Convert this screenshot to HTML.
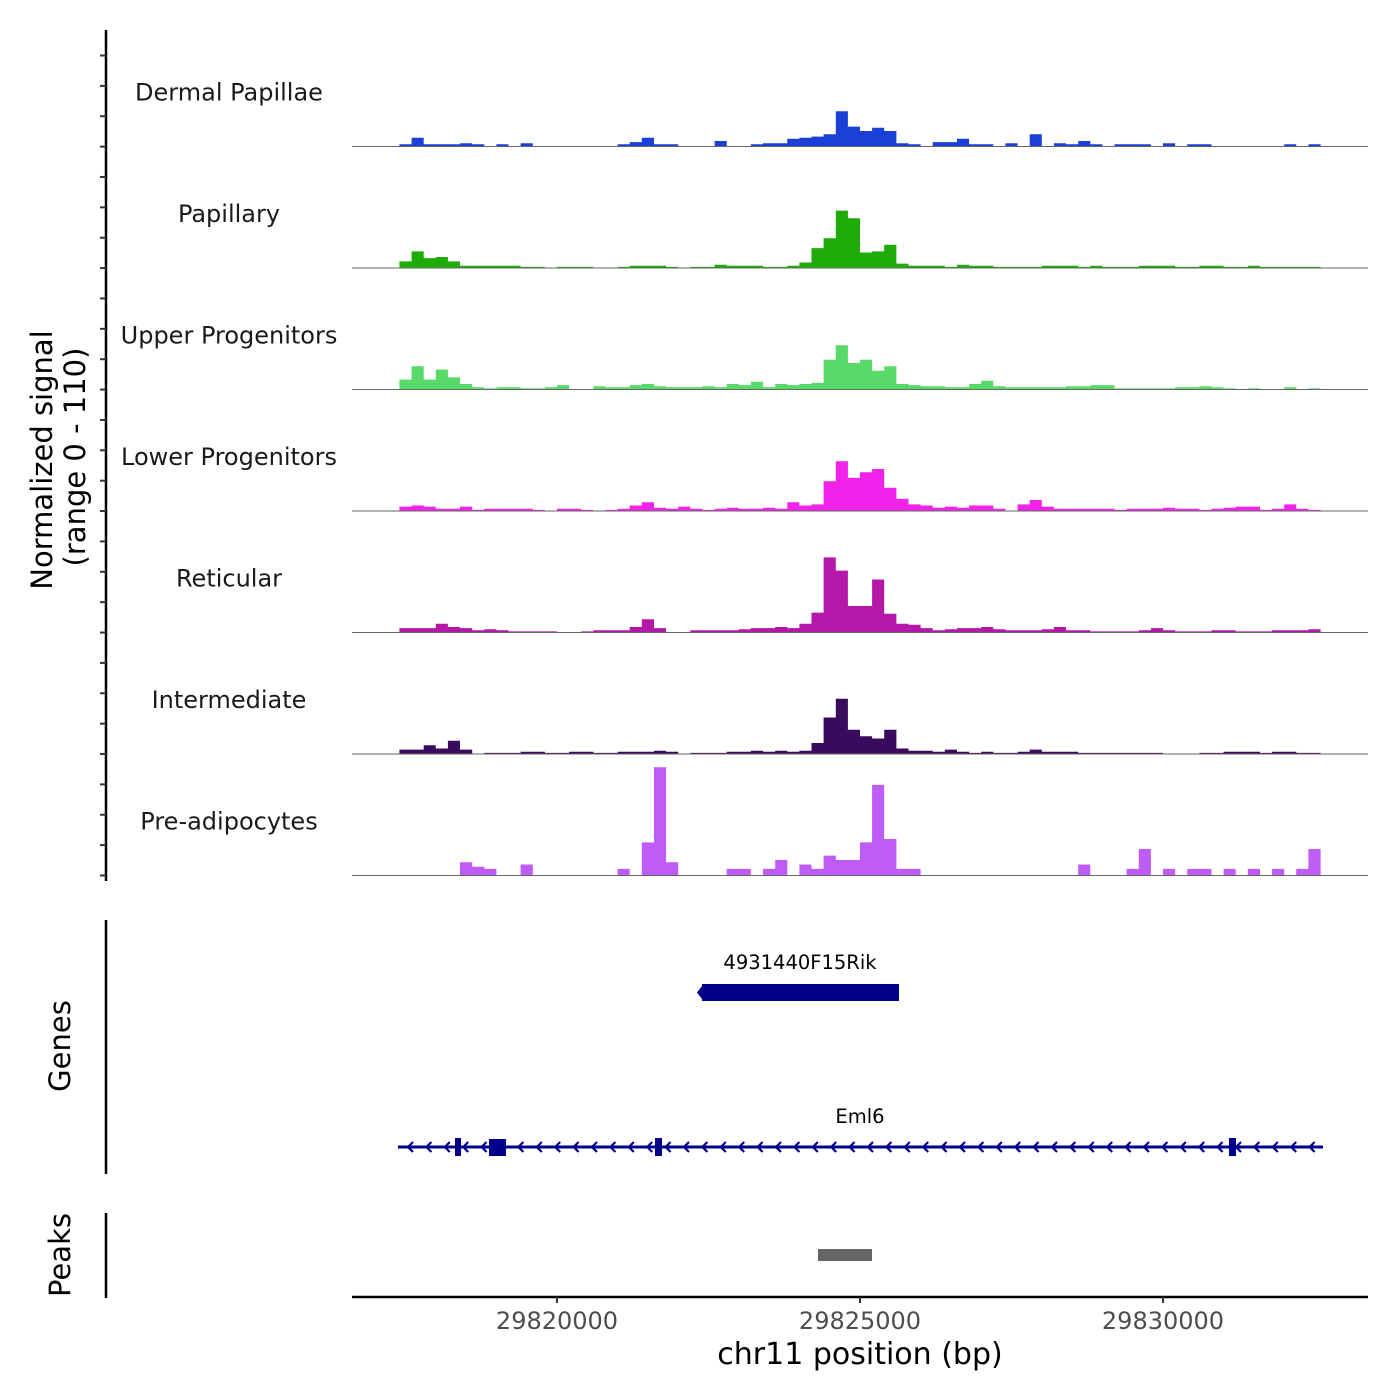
<!DOCTYPE html>
<html><head><meta charset="utf-8"><style>
body{margin:0;background:#fff}
svg{display:block;font-family:"DejaVu Sans","Liberation Sans",sans-serif}
</style></head><body>
<svg id="chart" width="1400" height="1400" viewBox="0 0 1400 1400">
<rect width="1400" height="1400" fill="#fff"/>
<g id="tracks"></g>
<line x1="106" y1="30" x2="106" y2="881" stroke="#000" stroke-width="2.5"/>
<g id="yticks"></g>
<text transform="translate(52,460) rotate(-90)" text-anchor="middle" font-size="29">Normalized signal</text>
<text transform="translate(85,457) rotate(-90)" text-anchor="middle" font-size="29">(range 0 - 110)</text>

<line x1="106" y1="920" x2="106" y2="1174" stroke="#000" stroke-width="2.5"/>
<text transform="translate(70,1046) rotate(-90)" text-anchor="middle" font-size="29">Genes</text>
<text x="800" y="969" text-anchor="middle" font-size="19.5">4931440F15Rik</text>
<rect x="702" y="984" width="197" height="17" fill="#00008b"/>
<path d="M702,986 L697,992.5 L702,999 Z" fill="#00008b"/>
<text x="860" y="1123" text-anchor="middle" font-size="19.5">Eml6</text>
<g id="eml6">
<line x1="398" y1="1147" x2="1323" y2="1147" stroke="#00008b" stroke-width="3"/>
<rect x="455" y="1138" width="6" height="18" fill="#00008b"/>
<rect x="489" y="1139" width="17" height="17" fill="#00008b"/>
<rect x="655" y="1138" width="7" height="18" fill="#00008b"/>
<rect x="1229" y="1138" width="7" height="18" fill="#00008b"/>
</g>

<line x1="106" y1="1213" x2="106" y2="1298" stroke="#000" stroke-width="2.5"/>
<text transform="translate(70,1255) rotate(-90)" text-anchor="middle" font-size="29">Peaks</text>
<rect x="818" y="1249" width="54" height="12" fill="#666"/>

<line x1="352" y1="1297" x2="1368" y2="1297" stroke="#000" stroke-width="2.5"/>
<g id="xticks"></g>
<text x="860" y="1364" text-anchor="middle" font-size="30">chr11 position (bp)</text>
</svg>
<script>
const trackNames = ["Dermal Papillae","Papillary","Upper Progenitors","Lower Progenitors","Reticular","Intermediate","Pre-adipocytes"];
const trackColors = ["#1a40d8","#1fac0a","#58da68","#f122ea","#b418a8","#3a0b5d","#c05cf6"];
const binStart = 29817400;
const binSize = 200;
const xTickValues = [29820000,29825000,29830000];
const dermalPapillae = [2,8,2,2,2,3,2,0,2,0,3,0,0,0,0,0,0,0,2,4,8,2,2,0,0,0,5,0,0,2,3,3,7,8,9,11,32,18,14,17,14,3,2,0,4,4,7,2,2,0,3,0,11,0,3,2,5,2,0,2,2,2,0,3,0,2,2,0,0,0,0,0,0,2,0,2,0];
const papillary = [6,15,9,10,6,2,2,2,2,2,1,1,0,1,1,1,0,0,1,2,2,2,1,0,1,1,3,2,2,2,1,1,2,5,18,27,52,45,14,15,21,4,2,2,2,1,3,2,2,1,1,1,1,2,2,2,1,2,1,1,1,2,2,2,1,1,2,2,1,1,2,1,1,1,1,1,0];
const upperProgenitors = [9,21,9,18,11,5,2,1,2,2,1,1,2,4,0,0,3,2,2,4,5,3,2,2,2,3,2,5,4,7,2,5,4,5,6,27,40,24,27,17,21,5,4,3,3,2,2,5,8,3,2,2,2,2,2,3,3,4,4,1,1,1,1,1,2,2,3,2,1,0,1,0,0,2,0,1,0];
const lowerProgenitors = [4,5,4,2,2,4,1,2,2,2,2,1,0,2,2,1,0,1,2,5,8,3,2,4,2,1,2,3,2,2,3,2,8,5,6,27,45,30,35,38,21,11,6,5,3,4,3,5,5,2,0,6,10,4,2,2,2,2,2,1,2,2,2,3,2,2,1,2,3,4,4,1,2,6,2,1,0];
const reticular = [4,4,4,8,5,4,2,3,2,1,1,1,1,0,0,1,2,2,2,5,12,4,0,0,2,2,2,2,3,4,4,5,4,8,18,68,56,24,24,48,17,8,7,4,2,3,4,4,5,3,2,2,2,3,5,2,2,1,1,1,1,2,4,2,1,1,1,2,2,1,1,1,2,2,2,3,0];
const intermediate = [4,4,8,5,12,4,0,1,1,1,2,2,1,1,2,2,1,1,2,2,2,3,2,0,1,1,1,2,2,3,2,3,2,3,10,33,50,22,16,14,22,5,3,3,2,4,2,1,2,1,1,2,4,2,2,2,1,1,1,1,1,1,1,0,0,0,1,1,2,2,2,1,2,2,1,1,0];
const preAdipocytes = [0,0,0,0,0,12,8,6,0,0,10,0,0,0,0,0,0,0,6,0,30,98,12,0,0,0,0,6,6,0,6,14,0,10,6,18,14,14,30,82,33,6,6,0,0,0,0,0,0,0,0,0,0,0,0,0,10,0,0,0,6,24,0,6,0,6,6,0,6,0,6,0,6,0,6,24,0];
const trackData = [dermalPapillae,papillary,upperProgenitors,lowerProgenitors,reticular,intermediate,preAdipocytes];

const NS="http://www.w3.org/2000/svg";
const xMin=29816617, xMax=29833383, pxL=352, pxR=1368;
function xScale(v){return pxL+(v-xMin)/(xMax-xMin)*(pxR-pxL);}
const trackH=121.5, yMaxVal=110, firstBase=146.5;
function yScale(v,t){return firstBase+t*trackH - v/yMaxVal*trackH;}

const tracks=document.getElementById('tracks');
trackData.forEach((arr,t)=>{
  const base=yScale(0,t);
  let d="M"+xScale(binStart)+","+base;
  arr.forEach((v,i)=>{
    const x0=xScale(binStart+i*binSize), x1=xScale(binStart+(i+1)*binSize);
    d+=" L"+x0.toFixed(1)+","+yScale(v,t).toFixed(1)+" L"+x1.toFixed(1)+","+yScale(v,t).toFixed(1);
  });
  d+=" L"+xScale(binStart+arr.length*binSize).toFixed(1)+","+base+" Z";
  const p=document.createElementNS(NS,'path');
  p.setAttribute('d',d);p.setAttribute('fill',trackColors[t]);
  
  
  tracks.appendChild(p);
  const ln=document.createElementNS(NS,'line');
  ln.setAttribute('x1',pxL);ln.setAttribute('x2',pxR);ln.setAttribute('y1',base);ln.setAttribute('y2',base);
  ln.setAttribute('stroke','#666');ln.setAttribute('stroke-width','1');
  
  
  tracks.appendChild(ln);
  const tx=document.createElementNS(NS,'text');
  tx.setAttribute('x',229);tx.setAttribute('y',base-46);tx.setAttribute('text-anchor','middle');
  tx.setAttribute('font-size','24');tx.setAttribute('fill','#1a1a1a');
  tx.textContent=trackNames[t];
  
  
  tracks.appendChild(tx);
});
const yt=document.getElementById('yticks');
for(let k=0;k<28;k++){
  const y=55.5+k*30.37; if(y>880)break;
  const l=document.createElementNS(NS,'line');
  l.setAttribute('x1',100);l.setAttribute('x2',106);l.setAttribute('y1',y);l.setAttribute('y2',y);
  l.setAttribute('stroke','#333');l.setAttribute('stroke-width','2');
  
  
  yt.appendChild(l);
}
const xt=document.getElementById('xticks');
xTickValues.forEach(v=>{
  const x=xScale(v);
  const l=document.createElementNS(NS,'line');
  l.setAttribute('x1',x);l.setAttribute('x2',x);l.setAttribute('y1',1297);l.setAttribute('y2',1303);
  l.setAttribute('stroke','#333');l.setAttribute('stroke-width','2');
  
  
  xt.appendChild(l);
  const t=document.createElementNS(NS,'text');
  t.setAttribute('x',x);t.setAttribute('y',1329);t.setAttribute('text-anchor','middle');
  t.setAttribute('font-size','24');t.setAttribute('fill','#4d4d4d');
  t.textContent=v;
  
  
  xt.appendChild(t);
});
const eml=document.getElementById('eml6');
for(let x=408;x<1315;x+=18.4){
  const c=document.createElementNS(NS,'path');
  c.setAttribute('d','M'+(x+5)+',1142 L'+x+',1147 L'+(x+5)+',1152');
  c.setAttribute('stroke','#00008b');c.setAttribute('stroke-width','2.2');c.setAttribute('fill','none');
  
  
  eml.appendChild(c);
}
</script>
</body></html>
